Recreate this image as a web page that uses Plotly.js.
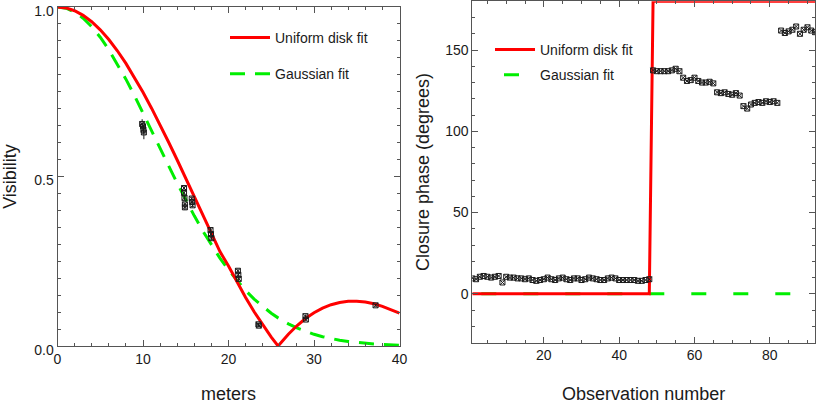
<!DOCTYPE html>
<html>
<head>
<meta charset="utf-8">
<script src="https://cdn.plot.ly/plotly-3.0.1.min.js"></script>
<style>html,body{margin:0;padding:0;background:#fff;}#chart{width:817px;height:404px;}</style>
</head>
<body>
<div id="chart"></div>
<script>
// ---- Visibility panel: model curves sampled along baseline (m) ----
const modelBaseline = [0,1,2,3,4,5,6,7,8,9,10,11,12,13,14,15,16,17,18,19,20,21,22,23,24,25,25.8,26,27,28,29,30,31,32,33,34,35,36,37,38,39,40];
const uniformDiskVis = [1,0.9973,0.9890,0.9754,0.9565,0.9326,0.9040,0.8709,0.8336,0.7927,0.7485,0.7015,0.6522,0.6011,0.5486,0.4955,0.4420,0.3888,0.3364,0.2785,0.2357,0.1882,0.1433,0.1011,0.0619,0.0261,0.0,0.0062,0.0348,0.0597,0.0809,0.0982,0.1119,0.1219,0.1285,0.1318,0.1320,0.1295,0.1244,0.1170,0.1078,0.0969];
const gaussianVis = [1,0.9963,0.9852,0.9669,0.9419,0.9107,0.8740,0.8326,0.7871,0.7386,0.6880,0.6360,0.5836,0.5315,0.4804,0.4311,0.3839,0.3393,0.2977,0.2592,0.2240,0.1922,0.1636,0.1383,0.1160,0.0966,0.0830,0.0798,0.0655,0.0533,0.0431,0.0345,0.0275,0.0217,0.0170,0.0133,0.0102,0.0079,0.0060,0.0045,0.0034,0.0025];

// measured visibilities
const visBaseline = [9.9,10.0,10.05,10.1, 14.8,14.8,14.85,14.9,14.9, 15.7,15.75,15.8, 17.9,17.95,18.0, 21.1,21.15,21.2, 23.5,23.55, 29.0,29.05, 37.2];
const visValue    = [0.655,0.648,0.638,0.630, 0.466,0.452,0.437,0.418,0.409, 0.435,0.425,0.415, 0.342,0.330,0.318, 0.222,0.210,0.198, 0.064,0.060, 0.088,0.078, 0.120];
const visError    = [0.014,0.010,0.012,0.020, 0.008,0.006,0.006,0.006,0.008, 0.006,0.006,0.006, 0.006,0.006,0.006, 0.006,0.006,0.006, 0.004,0.004, 0.005,0.005, 0.004];

// ---- Closure phase panel ----
const obsNumber = [1,2,3,4,5,6,7,8,9,10,11,12,13,14,15,16,17,18,19,20,21,22,23,24,25,26,27,28,29,30,31,32,33,34,35,36,37,38,39,40,41,42,43,44,45,46,47,48,49,50,51,52,53,54,55,56,57,58,59,60,61,62,63,64,65,66,67,68,69,70,71,72,73,74,75,76,77,78,79,80,81,82,83,84,85,86,87,88,89,90,91,92];
const closurePhase = [9.5,9.0,10.5,11.0,10.5,10.0,10.5,11.0,7.0,10.5,10.0,10.0,9.5,9.5,9.0,9.5,8.5,8.0,8.5,9.0,10.0,9.0,8.5,9.5,10.0,9.0,8.5,9.5,9.5,8.5,9.0,10.0,9.5,9.0,8.5,8.5,9.5,10.0,9.5,8.5,8.5,8.5,8.5,8.5,8.0,8.0,8.5,9.0,
  137.5,137,137,137,137,137.5,138.5,137,
  133,131,131.5,133,131,130,130,130.5,129.5,
  124,123.5,124,123,122.5,123.5,122,
  115.5,114,116.5,117.5,118,117.5,118.5,118,118.5,117.5,
  162,160.5,161.5,162.5,164.5,160,162.5,164,162,161];
const uniformDiskPhase = [0,0,0,0,0,0,0,0,0,0,0,0,0,0,0,0,0,0,0,0,0,0,0,0,0,0,0,0,0,0,0,0,0,0,0,0,0,0,0,0,0,0,0,0,0,0,0,0,
  180,180,180,180,180,180,180,180,180,180,180,180,180,180,180,180,180,180,180,180,180,180,180,180,180,180,180,180,180,180,180,180,180,180,180,180,180,180,180,180,180,180,180,180];
const gaussianPhase = [0,0,0,0,0,0,0,0,0,0,0,0,0,0,0,0,0,0,0,0,0,0,0,0,0,0,0,0,0,0,0,0,0,0,0,0,0,0,0,0,0,0,0,0,0,0,0,0,0,0,0,0,0,0,0,0,0,0,0,0,0,0,0,0,0,0,0,0,0,0,0,0,0,0,0,0,0,0,0,0,0,0,0,0,0,0,0,0,0,0,0,0];

const RED = '#ff0000', GREEN = '#00ee00', INK = '#1a1a1a', AX = '#555555';
const W = 817, H = 404;

const traces = [
  {x: modelBaseline, y: gaussianVis, type: 'scatter', mode: 'lines', name: 'Gaussian fit',
   line: {color: GREEN, width: 3, dash: '15px,10px'}, legend: 'legend', legendgroup: 'g1', legendrank: 2,
   xaxis: 'x', yaxis: 'y', hoverinfo: 'skip'},
  {x: modelBaseline, y: uniformDiskVis, type: 'scatter', mode: 'lines', name: 'Uniform disk fit',
   line: {color: RED, width: 3}, legend: 'legend', legendgroup: 'u1', legendrank: 1,
   xaxis: 'x', yaxis: 'y', hoverinfo: 'skip'},
  {x: visBaseline, y: visValue, type: 'scatter', mode: 'markers', showlegend: false,
   marker: {symbol: 'square-x-open', size: 5, color: INK, line: {width: 1, color: INK}},
   error_y: {type: 'data', array: visError, visible: true, color: INK, thickness: 1, width: 0},
   xaxis: 'x', yaxis: 'y'},
  {x: obsNumber, y: gaussianPhase, type: 'scatter', mode: 'lines', name: 'Gaussian fit',
   line: {color: GREEN, width: 3, dash: '0px,9px,15px,18px'}, legend: 'legend2', legendgroup: 'g2', legendrank: 2,
   xaxis: 'x2', yaxis: 'y2', hoverinfo: 'skip'},
  {x: obsNumber, y: uniformDiskPhase, type: 'scatter', mode: 'lines', name: 'Uniform disk fit',
   line: {color: RED, width: 3}, legend: 'legend2', legendgroup: 'u2', legendrank: 1,
   xaxis: 'x2', yaxis: 'y2', hoverinfo: 'skip', cliponaxis: false},
  {x: obsNumber, y: closurePhase, type: 'scatter', mode: 'markers', showlegend: false,
   marker: {symbol: 'square-x-open', size: 5, color: INK, line: {width: 1, color: INK}},
   xaxis: 'x2', yaxis: 'y2'}
];

const axBase = {
  showline: true, linecolor: AX, linewidth: 1, mirror: 'allticks',
  ticks: 'inside', ticklen: 6, tickwidth: 1, tickcolor: AX,
  showgrid: false, zeroline: false, ticklabeloverflow: 'allow',
  tickfont: {size: 14, color: INK}
};

const layout = {
  width: W, height: H,
  margin: {l: 0, r: 0, t: 0, b: 0},
  paper_bgcolor: '#ffffff', plot_bgcolor: '#ffffff',
  font: {family: '"Liberation Sans", Arial, sans-serif', size: 14, color: INK},
  showlegend: true,
  xaxis: Object.assign({}, axBase, {
    domain: [57.5 / W, 399.5 / W], range: [0, 40], tick0: 0, dtick: 10, anchor: 'y',
    minor: {dtick: 2, ticks: 'inside', ticklen: 3, tickcolor: AX, showgrid: false},
    title: {text: 'meters', font: {size: 18, color: INK}, standoff: 24}
  }),
  yaxis: Object.assign({}, axBase, {
    domain: [1 - 346 / H, 1 - 7 / H], range: [0, 1], tick0: 0, dtick: 0.5, tickformat: '.1f', anchor: 'x',
    ticklabelshift: 4,
    minor: {dtick: 0.05, ticks: 'inside', ticklen: 3, tickcolor: AX, showgrid: false},
    title: {text: 'Visibility', font: {size: 18, color: INK}, standoff: 18}
  }),
  xaxis2: Object.assign({}, axBase, {
    domain: [472.3 / W, 815 / W], range: [1, 92], tick0: 0, dtick: 20, anchor: 'y2',
    minor: {dtick: 5, ticks: 'inside', ticklen: 3, tickcolor: AX, showgrid: false},
    title: {text: 'Observation number', font: {size: 18, color: INK}, standoff: 25}
  }),
  yaxis2: Object.assign({}, axBase, {
    domain: [1 - 342.6 / H, 1 - 1.3 / H], range: [-30, 180], tick0: 0, dtick: 50, anchor: 'x2',
    minor: {dtick: 10, ticks: 'inside', ticklen: 3, tickcolor: AX, showgrid: false},
    title: {text: 'Closure phase (degrees)', font: {size: 18, color: INK}, standoff: 10}
  }),
  legend: {
    x: 225 / W, y: 1 - 22 / H, xanchor: 'left', yanchor: 'top',
    bgcolor: 'rgba(0,0,0,0)', borderwidth: 0, itemwidth: 40, tracegroupgap: 15,
    font: {size: 14, color: INK}, itemclick: false, itemdoubleclick: false
  },
  legend2: {
    x: 490 / W, y: 1 - 34 / H, xanchor: 'left', yanchor: 'top',
    bgcolor: 'rgba(0,0,0,0)', borderwidth: 0, itemwidth: 40, tracegroupgap: 4,
    font: {size: 14, color: INK}, itemclick: false, itemdoubleclick: false
  }
};

Plotly.newPlot('chart', traces, layout, {displayModeBar: false, staticPlot: true});
</script>
</body>
</html>
